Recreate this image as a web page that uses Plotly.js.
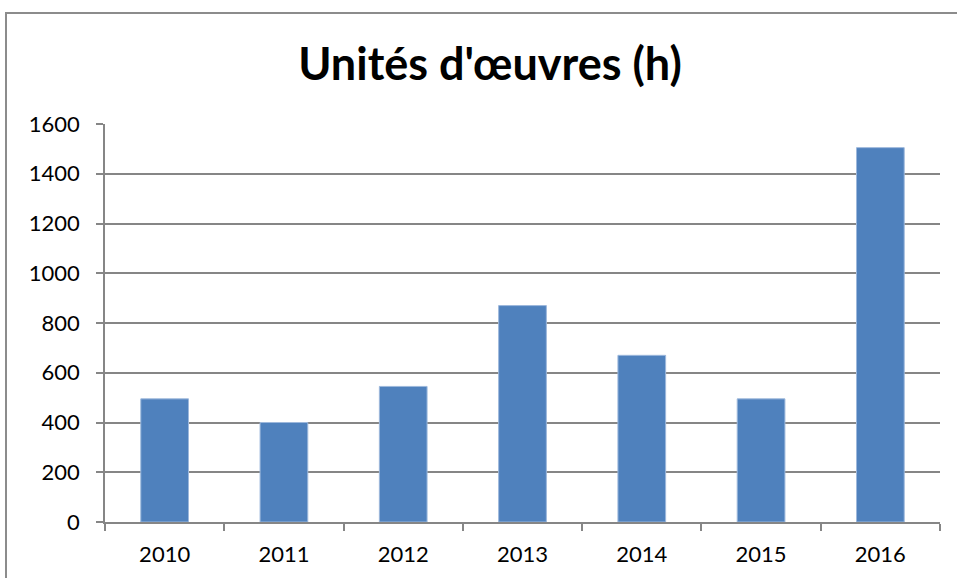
<!DOCTYPE html>
<html>
<head>
<meta charset="utf-8">
<script src="https://cdn.plot.ly/plotly-3.0.1.min.js"></script>
<style>
html,body{margin:0;padding:0;background:#fff;overflow:hidden;}
#chart{width:957px;height:578px;}
#frame{position:absolute;left:5px;top:12px;width:960px;height:580px;border:2px solid #8c8c8c;box-sizing:border-box;pointer-events:none;}
</style>
</head>
<body>
<div id="chart"></div>
<div id="frame"></div>
<script>
const years = ["2010","2011","2012","2013","2014","2015","2016"];
const hours = [495, 400, 545, 870, 670, 495, 1505];
const yTicks = [0,200,400,600,800,1000,1200,1400,1600];
const titleText = "Unités d'œuvres (h)";

Plotly.newPlot("chart", [{
  type: "bar",
  x: years,
  y: hours,
  width: 0.4,
  marker: {color: "#4F81BD", line: {color: "#9DB8DC", width: 1}},
  hoverinfo: "x+y"
}], {
  width: 957, height: 578,
  margin: {l: 105, r: 17, t: 124, b: 56, pad: 0},
  paper_bgcolor: "#fff", plot_bgcolor: "#fff",
  title: {text: "<b>" + titleText + "</b>", font: {family: "Lato, 'Open Sans', sans-serif", size: 45, color: "#000"}, x: 0.512, xanchor: "center", y: 0.888, yanchor: "middle"},
  xaxis: {
    type: "category",
    tickson: "boundaries",
    ticks: "outside", ticklen: 7, tickcolor: "#868686", tickwidth: 1.5,
    showline: true, linecolor: "#868686", linewidth: 1.5,
    showgrid: false,
    tickfont: {family: "Lato, sans-serif", size: 22, color: "#000"},
    ticklabelstandoff: 12
  },
  yaxis: {
    range: [0, 1600],
    tickvals: yTicks,
    ticktext: yTicks.map(String),
    ticks: "outside", ticklen: 7, tickcolor: "#868686", tickwidth: 1.5,
    showline: true, linecolor: "#868686", linewidth: 1.5,
    showgrid: true, gridcolor: "#868686", gridwidth: 1.5,
    zeroline: false,
    tickfont: {family: "Lato, sans-serif", size: 22, color: "#000"},
    ticklabelstandoff: 12
  },
  showlegend: false,
  bargap: 0.6
}, {displayModeBar: false, staticPlot: false});
</script>
</body>
</html>
